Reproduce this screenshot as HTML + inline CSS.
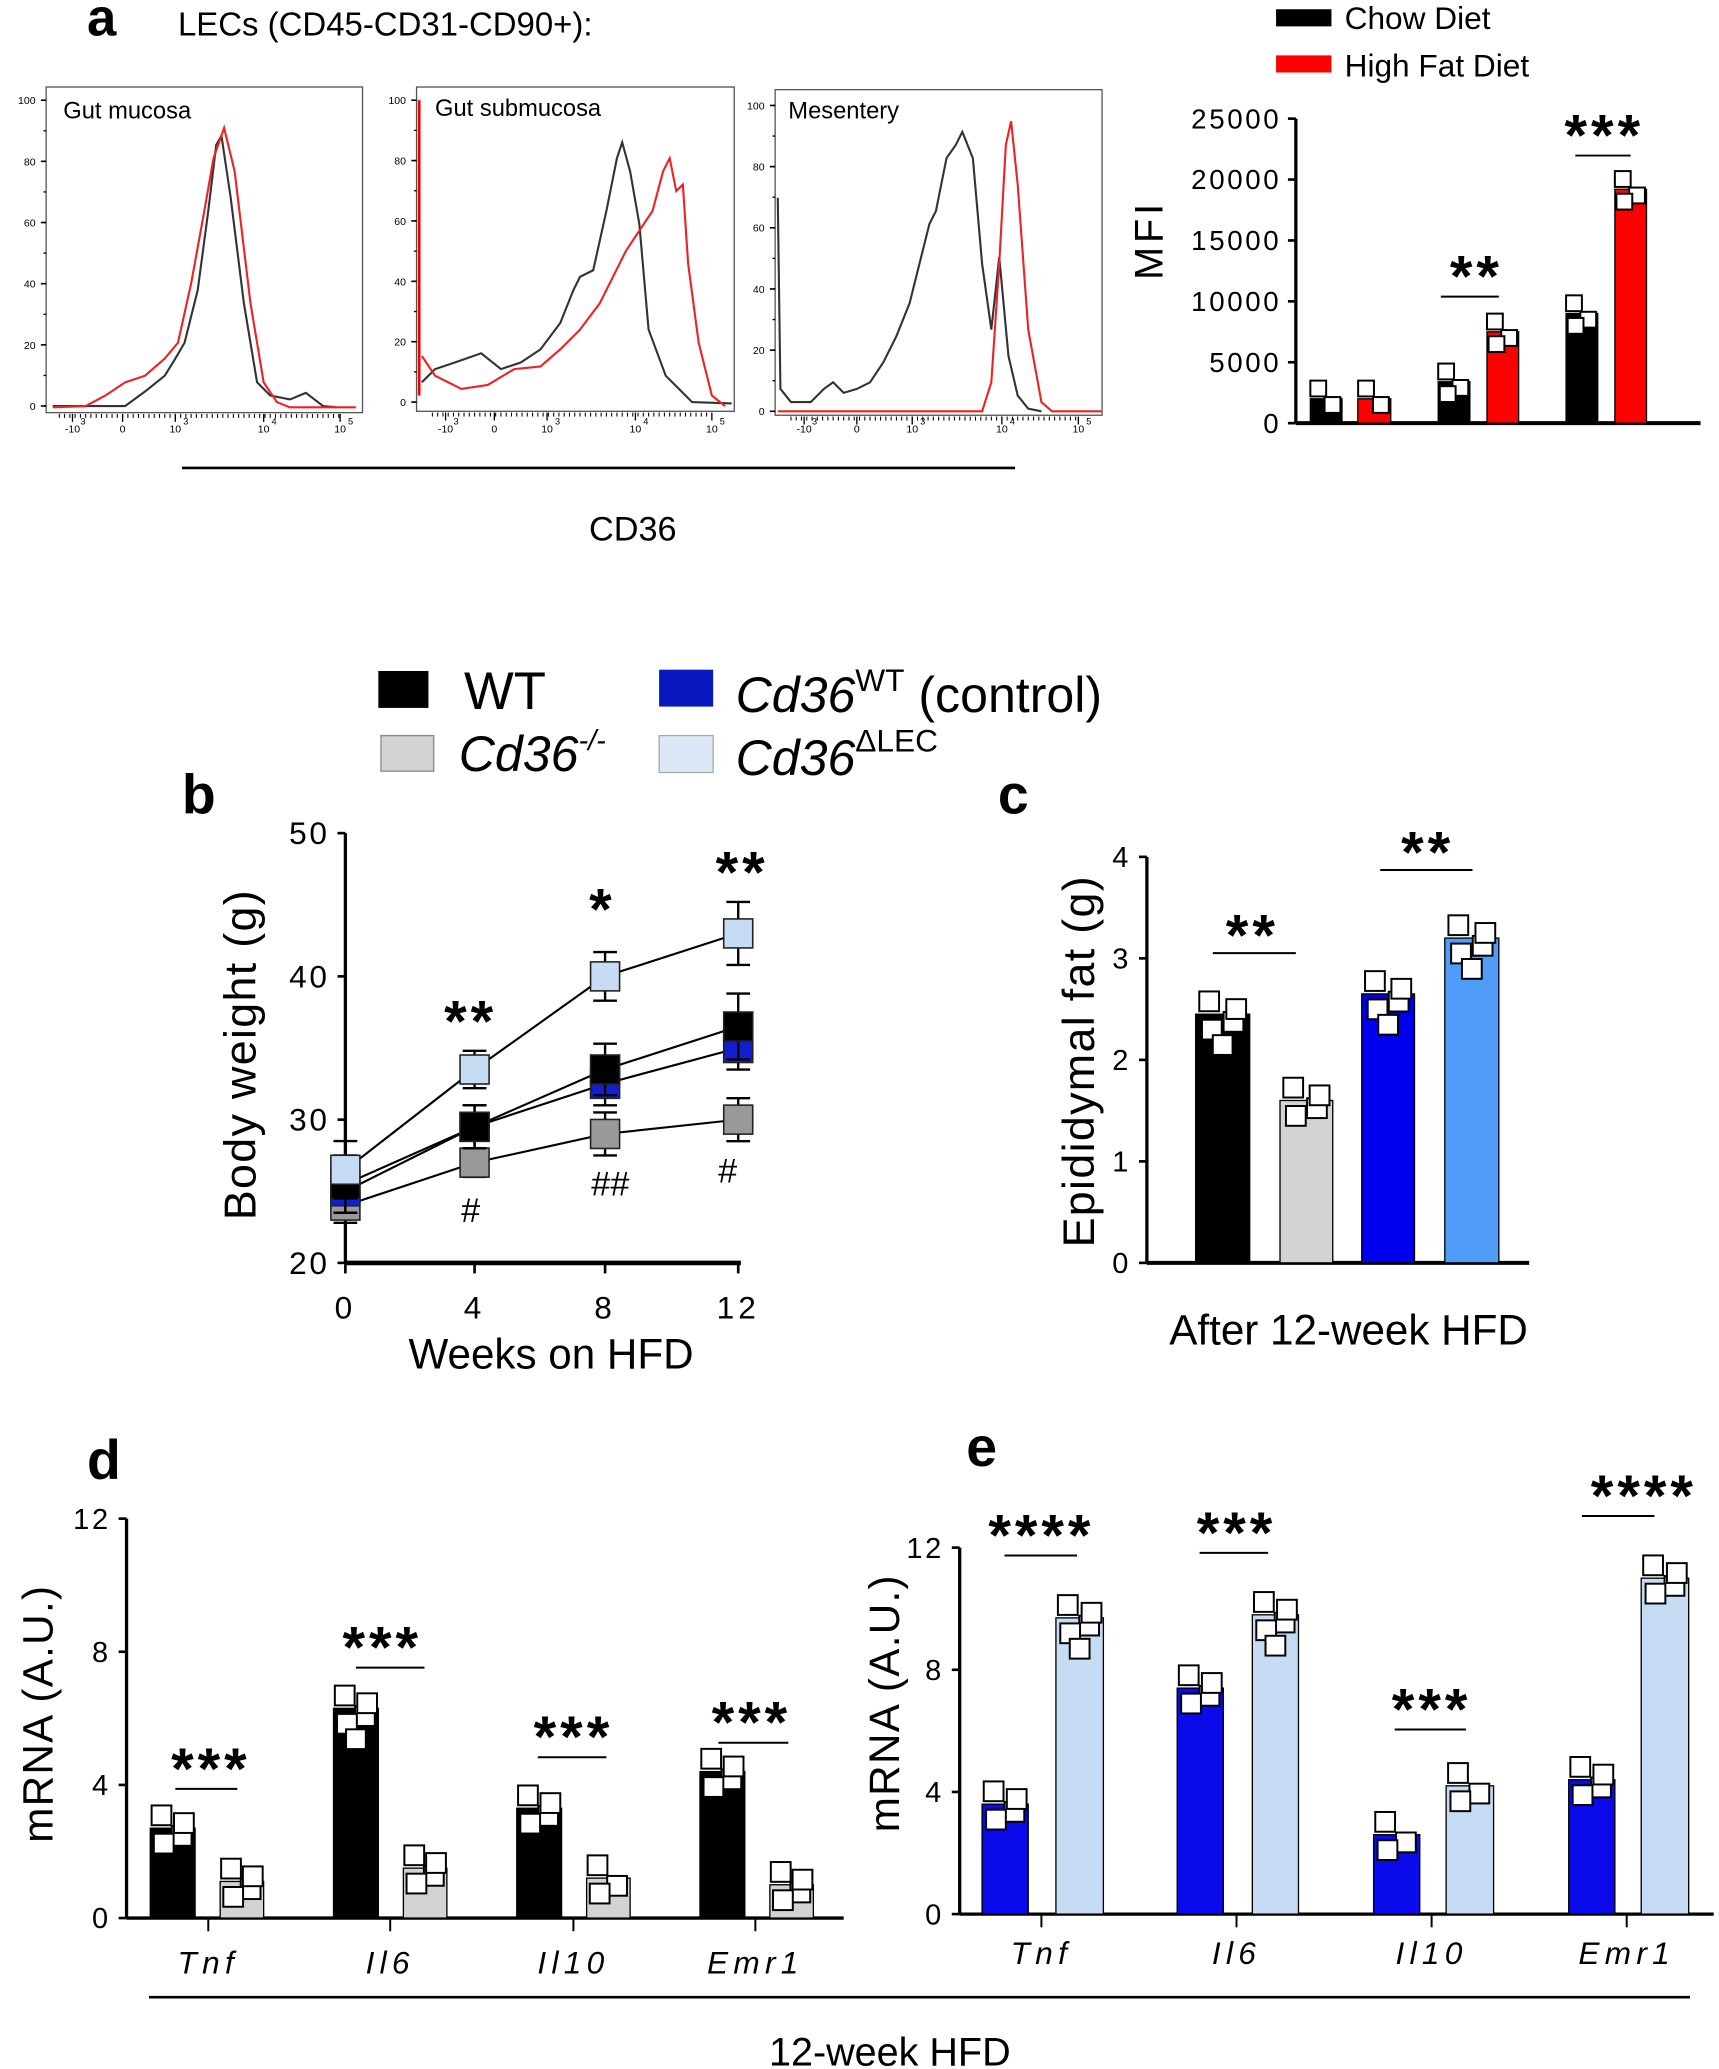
<!DOCTYPE html>
<html><head><meta charset="utf-8">
<style>
html,body{margin:0;padding:0;background:#fff;}
svg{display:block;}
text{font-family:"Liberation Sans",sans-serif;fill:#000;}
</style></head>
<body>
<svg id="s" width="1719" height="2069" viewBox="0 0 1304 1569.5" preserveAspectRatio="none" xmlns="http://www.w3.org/2000/svg">
<rect width="1304" height="1570" fill="#fff"/>
<text x="66" y="27" font-size="40" font-weight="bold">a</text>
<text x="135" y="27" font-size="25">LECs (CD45-CD31-CD90+):</text>
<line x1="138" y1="355" x2="770" y2="355" stroke="#000" stroke-width="2"/>
<text x="480" y="410" font-size="26" text-anchor="middle">CD36</text>
<rect x="35" y="66" width="240" height="247" fill="none" stroke="#555" stroke-width="1"/>
<rect x="316" y="66" width="241" height="246" fill="none" stroke="#555" stroke-width="1"/>
<rect x="588" y="68" width="248" height="247" fill="none" stroke="#555" stroke-width="1"/>
<text x="48" y="90" font-size="18">Gut mucosa</text>
<text x="330" y="88" font-size="18">Gut submucosa</text>
<text x="598" y="90" font-size="18">Mesentery</text>
<line x1="318" y1="76" x2="318" y2="300" stroke="#e00" stroke-width="2"/>
<rect x="968" y="7" width="42" height="13" fill="#000"/>
<text x="1020" y="22" font-size="24">Chow Diet</text>
<rect x="968" y="42" width="42" height="13" fill="#f00"/>
<text x="1020" y="58" font-size="24">High Fat Diet</text>
<text transform="translate(882,182) rotate(-90)" font-size="30" text-anchor="middle" letter-spacing="3">MFI</text>
<rect x="287" y="509" width="38" height="28" fill="#000"/>
<text x="352" y="538" font-size="40">WT</text>
<rect x="289" y="558" width="40" height="27" fill="#d3d3d3" stroke="#888"/>
<text x="348" y="585" font-size="38" font-style="italic">Cd36<tspan font-size="22" dy="-16">-/-</tspan></text>
<rect x="500" y="508" width="41" height="28" fill="#0a18c0"/>
<text x="558" y="540" font-size="38"><tspan font-style="italic">Cd36</tspan><tspan font-size="24" dy="-16">WT</tspan><tspan dy="16"> (control)</tspan></text>
<rect x="500" y="558" width="41" height="28" fill="#dce8f7" stroke="#aaa"/>
<text x="558" y="588" font-size="38"><tspan font-style="italic">Cd36</tspan><tspan font-size="24" dy="-18">ΔLEC</tspan></text>
<text x="138" y="617" font-size="42" font-weight="bold">b</text>
<text x="757" y="617" font-size="42" font-weight="bold">c</text>
<text transform="translate(194,800) rotate(-90)" font-size="34" text-anchor="middle" letter-spacing="1">Body weight (g)</text>
<text x="418" y="1038" font-size="32" text-anchor="middle">Weeks on HFD</text>
<text transform="translate(830,805) rotate(-90)" font-size="34" text-anchor="middle" letter-spacing="1">Epididymal fat (g)</text>
<text x="1023" y="1020" font-size="32" text-anchor="middle">After 12-week HFD</text>
<text x="66" y="1122" font-size="42" font-weight="bold">d</text>
<text x="733" y="1112" font-size="42" font-weight="bold">e</text>
<text transform="translate(40,1300) rotate(-90)" font-size="32" text-anchor="middle" letter-spacing="1">mRNA (A.U.)</text>
<text transform="translate(682,1292) rotate(-90)" font-size="32" text-anchor="middle" letter-spacing="1">mRNA (A.U.)</text>
<line x1="113" y1="1515" x2="1282" y2="1515" stroke="#000" stroke-width="2"/>
<text x="675" y="1567" font-size="30" text-anchor="middle">12-week HFD</text>
<g id="g"></g>
</svg>
<script>
var G=document.getElementById('g'),NS='http://www.w3.org/2000/svg';
function el(t,a,txt){var e=document.createElementNS(NS,t);for(var k in a)e.setAttribute(k,a[k]);if(txt!==undefined)e.textContent=txt;G.appendChild(e);return e;}
function line(x1,y1,x2,y2,w,c){el('line',{x1:x1,y1:y1,x2:x2,y2:y2,stroke:c||'#000','stroke-width':w||2});}
function txt(x,y,s,fs,o){var a={x:x,y:y,'font-size':fs};for(var k in o)a[k]=o[k];el('text',a,s);}
function star(x,y,s){txt(x,y+8,s,44,{'text-anchor':'middle','letter-spacing':'3','font-weight':'bold'});}
function poly(pts,c){el('polyline',{points:pts.map(function(p){return p.join(',')}).join(' '),fill:'none',stroke:c,'stroke-width':1.6});}
function hax(bx,b0,b100,xl){for(var i=0;i<=5;i++){var y=b0-(b0-b100)*i/5;line(bx-4,y,bx,y,1.2);txt(bx-8,y+3,String(i*20),8,{'text-anchor':'end'});}
 for(var j=0;j<=10;j++){var y2=b0-(b0-b100)*j/10;line(bx-2,y2,bx,y2,1);}
 var lab=['-10','0','10','10','10'],sup=['3','','3','4','5'];
 for(var i=0;i<5;i++){var x=xl[i];line(x,xl.base,x,xl.base+6,1);txt(x,328,lab[i],8,{'text-anchor':'middle'});if(sup[i])txt(x+6,322,sup[i],7,{});}
 for(var x=xl[0]-10;x<xl[4];x+=4)line(x,xl.base,x,xl.base+3,0.8);}
var x1=[55,93,133,200,258];x1.base=314;hax(35,308,76,x1);
var x2=[338,375,415,482,540];x2.base=313;hax(316,305,76,x2);
var x3=[610,650,692,760,818];x3.base=316;hax(588,312,80,x3);
poly([[40,308],[95,308],[110,297],[125,285],[133,272],[140,260],[150,220],[158,160],[164,110],[168,103],[175,150],[185,230],[195,290],[205,300],[220,303],[232,298],[245,308],[255,309]],'#333');
poly([[40,309],[65,308],[80,300],[95,290],[110,285],[125,272],[135,260],[145,215],[155,160],[162,120],[170,97],[178,130],[190,230],[200,290],[210,305],[220,309],[270,309]],'#e22');
poly([[320,290],[330,280],[345,275],[365,268],[380,280],[395,275],[410,265],[425,245],[435,220],[440,210],[450,205],[460,160],[468,120],[472,108],[478,130],[485,170],[492,250],[505,285],[515,295],[525,305],[555,306]],'#333');
poly([[320,270],[330,285],[350,295],[370,292],[390,280],[410,278],[425,265],[440,250],[455,230],[465,210],[475,190],[485,175],[495,160],[503,130],[508,120],[513,145],[518,140],[522,200],[530,260],[540,300],[550,308]],'#e22');
poly([[590,150],[592,295],[600,305],[615,305],[625,295],[632,290],[640,298],[650,295],[660,290],[670,275],[680,255],[690,230],[700,190],[705,170],[710,160],[718,120],[725,110],[730,100],[738,120],[745,200],[752,250],[758,195],[765,270],[772,300],[780,310],[790,312]],'#333');
poly([[590,312],[745,312],[752,290],[758,200],[763,110],[767,92],[772,140],[780,250],[790,305],[798,312],[836,312]],'#e22');
function sq(x,y,s){el('rect',{x:x-s/2,y:y-s/2,width:s,height:s,fill:'#fff',stroke:'#000','stroke-width':1.5});}
function yaxis(x,y0,y1,vals,fs,lx){line(x,y0,x,y1,2.5);vals.forEach(function(v){var y=y0+(y1-y0)*v[0];line(x-6,y,x,y,2);txt(lx,y+fs*0.35,v[1],fs,{'text-anchor':'end','letter-spacing':'2'});});}
function bars(list,y0,ppu,ss){list.forEach(function(b){var h=b[2]*ppu;el('rect',{x:b[0],y:y0-h,width:b[1]-b[0],height:h,fill:b[3],stroke:'#000','stroke-width':1});var cx=(b[0]+b[1])/2,w=b[1]-b[0];var off=[[-0.25,-0.5],[0.2,0.3],[-0.2,0.6],[0.25,-0.2],[0,1.2]];var n=b[4]||4;for(var i=0;i<n;i++){sq(cx+off[i][0]*w,y0-h+off[i][1]*ss*1.3,ss);} });}
yaxis(983,321,90,[[0,'0'],[0.2,'5000'],[0.4,'10000'],[0.6,'15000'],[0.8,'20000'],[1,'25000']],21,972);
line(983,321,1290,321,3);
bars([[994,1018,2000,'#000',2],[1030,1055,2000,'#f00',2],[1091,1115,3400,'#000',3],[1128,1152,7500,'#f00',3],[1188,1212,9000,'#000',3],[1225,1249,19200,'#f00',3]],321,231/25000,12);
star(1120,217,'**');line(1093,225,1137,225,1.5);
star(1217,110,'***');line(1195,118,1237,118,1.5);
yaxis(262,958,632,[[0,'20'],[1/3,'30'],[2/3,'40'],[1,'50']],24,250);
line(262,958,562,958,3.5);
[[262,'0'],[360,'4'],[459,'8'],[560,'12']].forEach(function(t){line(t[0],958,t[0],966,2);txt(t[0],1000,t[1],24,{'text-anchor':'middle','letter-spacing':'3'});});
function Y(v){return 958-(v-20)*326/30;}
var xs=[262,360,459,560];
var ser=[[[24,27,29,30],'#999',[1.2,1,1.5,1.5]],[[25,29.5,32.5,35],'#1020d0',[1.5,1.5,1.5,1.5]],[[25.5,29.5,33.5,36.5],'#000',[2,1.5,1.8,2.3]],[[26.5,33.5,40,43],'#c6dcf5',[2,1.3,1.7,2.2]]];
ser.forEach(function(s){poly(s[0].map(function(v,i){return [xs[i],Y(v)]}),'#000');});
ser.forEach(function(s){s[0].forEach(function(v,i){var y=Y(v),e=s[2][i]*10.87;line(xs[i],y-e,xs[i],y+e,1.8);line(xs[i]-9,y-e,xs[i]+9,y-e,1.8);line(xs[i]-9,y+e,xs[i]+9,y+e,1.8);el('rect',{x:xs[i]-11,y:y-11,width:22,height:22,fill:s[1],stroke:'#222','stroke-width':1.2});});});
star(357,782,'**');
star(457,697,'*');
star(563,669,'**');
txt(357,927,'#',26,{'text-anchor':'middle'});
txt(463,907,'##',26,{'text-anchor':'middle'});
txt(552,897,'#',26,{'text-anchor':'middle'});
yaxis(870,958,650,[[0,'0'],[0.25,'1'],[0.5,'2'],[0.75,'3'],[1,'4']],22,858);
line(870,958,1160,958,3);
bars([[907,948,2.45,'#000',5],[971,1011,1.6,'#d3d3d3',4],[1033,1073,2.65,'#0000ee',5],[1096,1137,3.2,'#4f9cf9',5]],958,77,15);
star(950,717,'**');line(920,723,983,723,1.5);
star(1083,654,'**');line(1047,660,1117,660,1.5);
yaxis(96,1455,1152,[[0,'0'],[1/3,'4'],[2/3,'8'],[1,'12']],22,84);
line(96,1455,640,1455,2.5);
bars([[114,148,2.7,'#000',4],[167,200,1.1,'#d3d3d3',4],[253,287,6.3,'#000',5],[306,339,1.5,'#d3d3d3',4],[392,426,3.3,'#000',4],[445,478,1.2,'#d3d3d3',3],[531,565,4.4,'#000',4],[584,617,1.0,'#d3d3d3',4]],1455,25.25,15);
[[158,'Tnf'],[296,'Il6'],[435,'Il10'],[573,'Emr1']].forEach(function(t){line(t[0],1455,t[0],1465,1.5);txt(t[0],1497,t[1],24,{'text-anchor':'middle','font-style':'italic','letter-spacing':'4'});});
[[160,1357,133,180,'***'],[290,1265,270,322,'***'],[435,1333,408,460,'***'],[570,1322,545,598,'***']].forEach(function(s){star(s[0],s[1]-8,s[4]);line(s[2],s[1],s[3],s[1],1.5);});
yaxis(728,1452,1174,[[0,'0'],[1/3,'4'],[2/3,'8'],[1,'12']],22,716);
line(728,1452,1300,1452,2.5);
bars([[745,780,3.6,'#0a0aeb',4],[801,837,9.7,'#c6dcf5',5],[893,928,7.4,'#0a0aeb',4],[950,985,9.8,'#c6dcf5',5],[1042,1077,2.6,'#0a0aeb',3],[1097,1133,4.2,'#c6dcf5',3],[1190,1225,4.4,'#0a0aeb',4],[1245,1281,11,'#c6dcf5',4]],1452,278/12,15);
[[790,'Tnf'],[938,'Il6'],[1086,'Il10'],[1234,'Emr1']].forEach(function(t){line(t[0],1452,t[0],1462,1.5);txt(t[0],1490,t[1],24,{'text-anchor':'middle','font-style':'italic','letter-spacing':'4'});});
[[790,1180,762,817,'****'],[938,1178,910,962,'***'],[1086,1312,1058,1112,'***'],[1247,1150,1200,1255,'****']].forEach(function(s){star(s[0],s[1]-8,s[4]);line(s[2],s[1],s[3],s[1],1.5);});
</script>
</body></html>
